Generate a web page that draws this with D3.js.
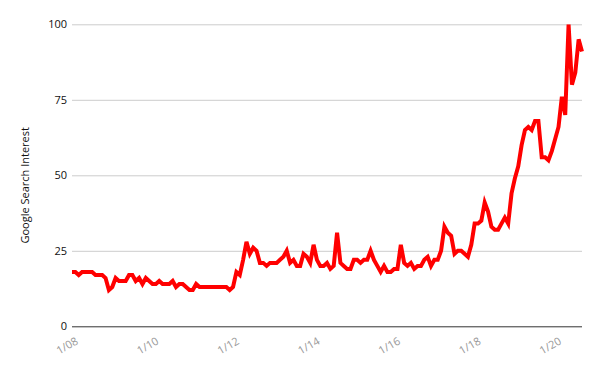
<html>
<head>
<script src="https://cdn.jsdelivr.net/npm/d3@7"></script>
<style>
	body { margin: 0; background: #fff; }
	text { font-family: 'Open Sans', sans-serif; }
</style>
</head>
<body>
<div id="container"></div>
<script>
// monthly search interest, Jan 2008 - Sep 2020
var interest = [
	18, 18, 17, 18, 18, 18, 18, 17, 17, 17, 16, 12,
	13, 16, 15, 15, 15, 17, 17, 15, 16, 14, 16, 15,
	14, 14, 15, 14, 14, 14, 15, 13, 14, 14, 13, 12,
	12, 14, 13, 13, 13, 13, 13, 13, 13, 13, 13, 12,
	13, 18, 17, 22, 28, 24, 26, 25, 21, 21, 20, 21,
	21, 21, 22, 23, 25, 21, 22, 20, 20, 24, 23, 21,
	27, 22, 20, 20, 21, 19, 20, 31, 21, 20, 19, 19,
	22, 22, 21, 22, 22, 25, 22, 20, 18, 20, 18, 18,
	19, 19, 27, 21, 20, 21, 19, 20, 20, 22, 23, 20,
	22, 22, 25, 33, 31, 30, 24, 25, 25, 24, 23, 27,
	34, 34, 35, 41, 38, 33, 32, 32, 34, 36, 34, 44,
	49, 53, 60, 65, 66, 65, 68, 68, 56, 56, 55, 58,
	62, 66, 76, 70, 100, 80, 84, 95, 91
];
var tickMonths = [0, 24, 48, 72, 96, 120, 144];
var tickLabels = ["1/08", "1/10", "1/12", "1/14", "1/16", "1/18", "1/20"];
var yTicks = [0, 25, 50, 75, 100];

const width = 600;
const height = 371;
const plotLeft = 72, plotRight = 582, plotTop = 24.3, plotBottom = 326.3;

const svg = d3.select("#container").append("svg")
	.attr("width", width)
	.attr("height", height);

var x = d3.scaleLinear()
	.domain([0, interest.length - 1])
	.range([plotLeft, plotRight]);

var y = d3.scaleLinear()
	.domain([0, 100])
	.range([plotBottom, plotTop]);

// gridlines
svg.append("g")
	.attr("transform", "translate(" + plotLeft + ",0)")
	.call(d3.axisLeft(y).tickValues(yTicks).tickSize(-(plotRight - plotLeft)).tickFormat(""))
	.call(g => g.select(".domain").remove())
	.selectAll("line")
	.attr("stroke", function(d) { return d == 0 ? "#333" : "#ccc"; });

// y labels
svg.append("g")
	.attr("transform", "translate(" + plotLeft + ",0)")
	.call(d3.axisLeft(y).tickValues(yTicks).tickSize(0).tickPadding(5))
	.call(g => g.select(".domain").remove())
	.selectAll("text")
	.style("font-size", "11px")
	.attr("fill", "#111");

svg.append("text")
	.attr("transform", "translate(29," + ((plotTop + plotBottom) / 2 + 10) + ")rotate(-90)")
	.attr("text-anchor", "middle")
	.style("font-size", "11px")
	.attr("fill", "#111")
	.text("Google Search Interest");

// x labels
svg.selectAll(".xlabel")
	.data(tickMonths)
	.enter()
	.append("text")
	.attr("class", "xlabel")
	.attr("transform", function(d) { return "translate(" + (x(d) + 7) + "," + (plotBottom + 17) + ")rotate(-30)"; })
	.attr("text-anchor", "end")
	.style("font-size", "11px")
	.attr("fill", "#999")
	.text(function(d, i) { return tickLabels[i]; });

svg.append("clipPath")
	.attr("id", "plot")
	.append("rect")
	.attr("x", 0)
	.attr("y", plotTop)
	.attr("width", width)
	.attr("height", plotBottom - plotTop);

var line = d3.line()
	.x(function(d, i) { return x(i); })
	.y(function(d) { return y(d); });

svg.append("path")
	.datum(interest)
	.attr("clip-path", "url(#plot)")
	.attr("fill", "none")
	.attr("stroke", "#ff0000")
	.attr("stroke-width", 4)
	.attr("stroke-linejoin", "miter")
	.attr("d", line);
</script>
</body>
</html>
